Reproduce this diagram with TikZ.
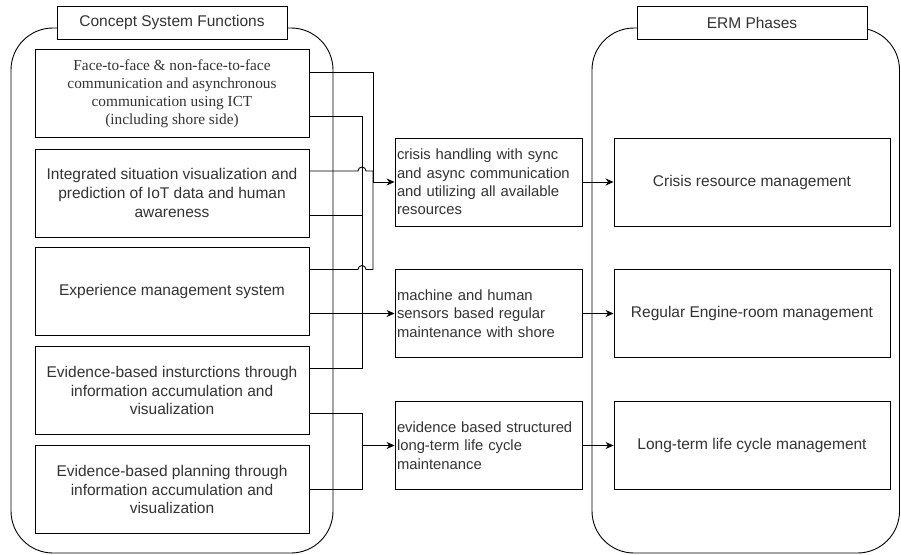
\documentclass[tikz,border=0pt]{standalone}
\usepackage{fontspec}
\newfontfamily\lsans{Liberation Sans}
\newfontfamily\lserif{Liberation Serif}
\usetikzlibrary{arrows.meta,calc}
\tikzset{
  container/.style={draw, line width=0.9pt, rounded corners=42pt},
  titlebox/.style={draw, fill=white, line width=0.9pt, minimum width=230pt, minimum height=33pt, inner sep=0pt, font=\lsans\fontsize{15.5}{18.6}\selectfont, text=black!80},
  leftbox/.style={draw, fill=white, line width=0.9pt, minimum width=274pt, minimum height=88pt, inner sep=0pt, align=center, font=\lsans\fontsize{15.5}{18.6}\selectfont, text=black!80},
  midbox/.style={draw, fill=white, line width=0.9pt, minimum width=187pt, minimum height=88pt, inner sep=0pt, text width=183pt, align=left, font=\lsans\fontsize{14.8}{18.3}\selectfont, text=black!80},
  rightbox/.style={draw, fill=white, line width=0.9pt, minimum width=276pt, minimum height=88pt, inner sep=0pt, align=center, font=\lsans\fontsize{15.5}{18.6}\selectfont, text=black!80},
  conn/.style={draw, line width=0.9pt},
  arr/.style={conn, -{Stealth[length=8pt,width=7pt]}}
}
\begin{document}
\begin{tikzpicture}[x=1pt,y=-1pt]
\useasboundingbox (0,0) rectangle (901,554);
% containers
\draw[container] (11,28) rectangle (333,553);
\draw[container] (592,28) rectangle (899.5,553);
\node[titlebox] (tl) at (172,22.5) {Concept System Functions};
\node[titlebox] (tr) at (752,22.5) {ERM Phases};
% left boxes
\node[leftbox, font=\lserif\fontsize{15.3}{18}\selectfont] (b1) at (172,93.5) {Face-to-face \& non-face-to-face\\communication and asynchronous\\communication using ICT\\(including shore side)};
\node[leftbox] (b2) at (172,193) {Integrated situation visualization and\\prediction of IoT data and human\\awareness};
\node[leftbox] (b3) at (172,291.5) {Experience management system};
\node[leftbox] (b4) at (172,390.5) {Evidence-based insturctions through\\information accumulation and\\visualization};
\node[leftbox] (b5) at (172,489.5) {Evidence-based planning through\\information accumulation and\\visualization};
% middle boxes
\node[midbox] (m1) at (488.5,182) {crisis handling with sync\\and async communication\\and utilizing all available\\resources};
\node[midbox] (m2) at (488.5,313.5) {machine and human\\sensors based regular\\maintenance with shore};
\node[midbox] (m3) at (488.5,445.5) {evidence based structured\\long-term life cycle\\maintenance};
% right boxes
\node[rightbox] (r1) at (752,182) {Crisis resource management};
\node[rightbox] (r2) at (752,313.5) {Regular Engine-room management};
\node[rightbox] (r3) at (752,445.5) {Long-term life cycle management};
% junctions and outlets
\coordinate (j1) at (373,182);
\coordinate (j2) at (362,313.5);
\coordinate (j3) at (362,445.5);
\coordinate (o1a) at ([yshift=21.5pt]b1.east);
\coordinate (o1b) at ([yshift=-22.5pt]b1.east);
\coordinate (o2a) at ([yshift=22pt]b2.east);
\coordinate (o2b) at ([yshift=-22pt]b2.east);
\coordinate (o3a) at ([yshift=22pt]b3.east);
\coordinate (o3b) at ([yshift=-22pt]b3.east);
\coordinate (o4a) at ([yshift=22.5pt]b4.east);
\coordinate (o4b) at ([yshift=-22.5pt]b4.east);
\coordinate (o5) at (b5.east);
% connectors to j2 (vertical x=362)
\draw[conn] (o1b) -| (j2);
\draw[conn] (o2b) -| (j2);
\draw[conn] (o4a) -| (j2);
% connectors to j1 (vertical x=373) with hops over x=362
\draw[conn] (o1a) -| (j1);
\draw[conn] (o2a) -- ($(o2a -| j2)+(-4,0)$) arc[start angle=180,end angle=0,radius=4pt] -| (j1);
\draw[conn] (o3a) -- ($(o3a -| j2)+(-4,0)$) arc[start angle=180,end angle=0,radius=4pt] -| (j1);
% lower group
\draw[conn] (o4b) -| (j3);
\draw[conn] (o5) -| (j3);
% arrows to middle boxes
\draw[arr] (j1) -- (m1.west);
\draw[arr] (o3b) -- (m2.west);
\draw[arr] (j3) -- (m3.west);
% arrows to right boxes
\draw[arr] (m1.east) -- (r1.west);
\draw[arr] (m2.east) -- (r2.west);
\draw[arr] (m3.east) -- (r3.west);
\end{tikzpicture}
\end{document}
